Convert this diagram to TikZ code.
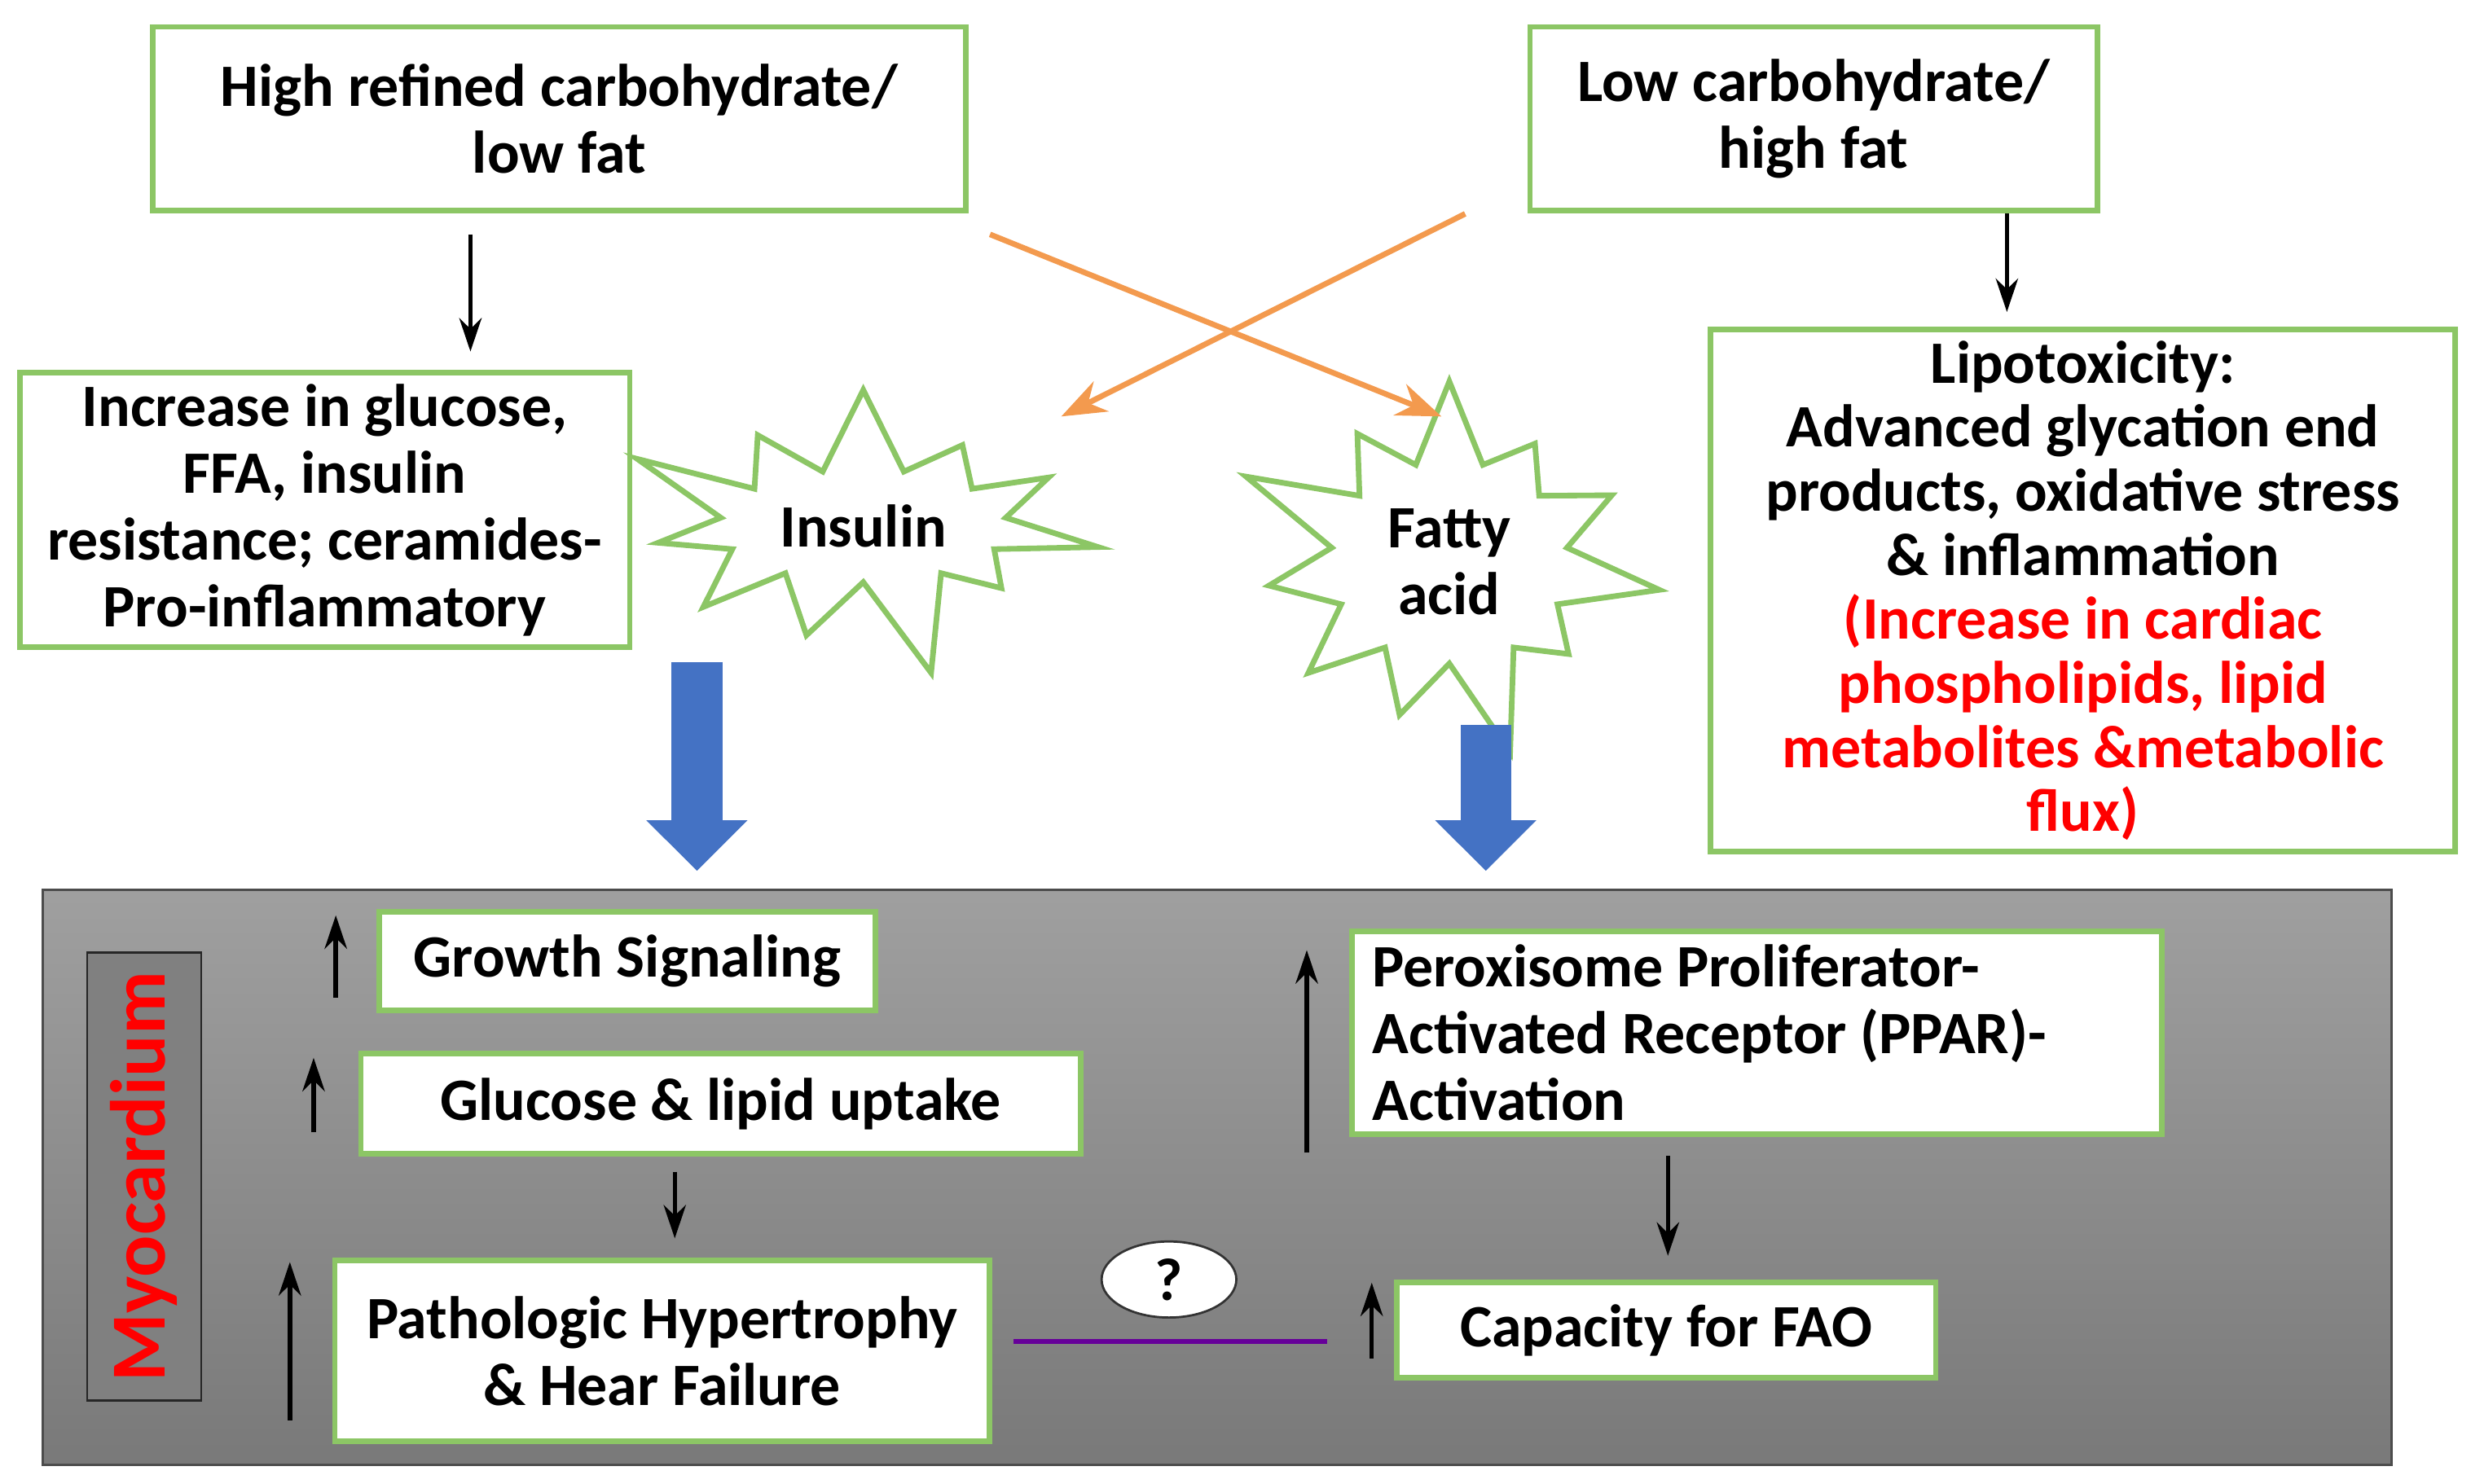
\documentclass[tikz,border=0pt]{standalone}
\usepackage{fontspec}
\setmainfont{Carlito}
\usetikzlibrary{shapes.symbols,shapes.geometric,arrows.meta}
\definecolor{boxgreen}{HTML}{8CC665}
\definecolor{dietorange}{HTML}{F39A4E}
\definecolor{bigblue}{HTML}{4472C4}
\begin{document}
\begin{tikzpicture}[x=0.01cm,y=-0.01cm,
  every node/.style={font=\bfseries\fontsize{10.8}{12}\selectfont},
  gbox/.style={draw=boxgreen,line width=1pt,fill=white,align=center,inner sep=2pt},
  burst/.style={starburst,starburst points=11,starburst point height=0.7cm,draw=boxgreen,line width=1pt,fill=white,align=center},
  thin arrow/.style={-{Stealth[length=6pt,width=4pt]},line width=0.8pt},
  big arrow/.style={-{Triangle[width=0.62cm,length=0.32cm]},line width=0.32cm,bigblue}]
\useasboundingbox (0,0) rectangle (1560,937);
% diets
\node[gbox,minimum width=5.13cm,minimum height=1.16cm] (hcarb) at (353,75) {High refined carbohydrate/\\low fat};
\node[gbox,minimum width=3.58cm,minimum height=1.16cm] (lcarb) at (1145,75) {Low carbohydrate/\\high fat};
\node[gbox,minimum width=3.85cm,minimum height=1.67cm] (gluc) at (205,322) {Increase in glucose,\\FFA, insulin\\resistance; ceramides-\\Pro-inflammatory};
\node[burst,minimum width=2.9cm,minimum height=1.9cm] (insulin) at (545,332) {Insulin};
\node[burst,minimum width=2.9cm,minimum height=1.8cm] (fatty) at (915,355) {Fatty\\acid};
\node[gbox,minimum width=4.7cm,minimum height=3.23cm,font=\bfseries\fontsize{10.8}{11.5}\selectfont] (lipo) at (1315,373) {Lipotoxicity:\\Advanced glycation end\\products, oxidative stress\\\& inflammation\\\textcolor{red}{(Increase in cardiac}\\\textcolor{red}{phospholipids, lipid}\\\textcolor{red}{metabolites \&metabolic}\\\textcolor{red}{flux)}};
\coordinate (a1) at (297,148); \coordinate (a2) at (297,222);
\coordinate (b1) at (1267,135); \coordinate (b2) at (1267,197);
\coordinate (o1) at (625,148); \coordinate (o2) at (910,263);
\coordinate (o3) at (925,135); \coordinate (o4) at (670,263);
\draw[thin arrow] (a1) -- (a2);
\draw[thin arrow] (b1) -- (b2);
\draw[-{Stealth[length=8pt,width=6pt]},dietorange,line width=1pt] (o1) -- (o2);
\draw[-{Stealth[length=8pt,width=6pt]},dietorange,line width=1pt] (o3) -- (o4);
\coordinate (c1) at (440,418); \coordinate (c2) at (440,550);
\coordinate (d1) at (938,458); \coordinate (d2) at (938,550);
\draw[big arrow] (c1) -- (c2);
\draw[big arrow] (d1) -- (d2);
% myocardium panel
\shade[top color=gray!75,bottom color=gray!95!black,draw=gray!60!black] (27,562) rectangle (1510,925);
\node[draw=gray!30!black,fill=gray,minimum width=2.83cm,minimum height=0.72cm,rotate=90,text=red,font=\bfseries\fontsize{14}{16}\selectfont] (myo) at (91,743) {Myocardium};
\node[gbox,minimum width=3.13cm,minimum height=0.62cm] (growth) at (396,607) {Growth Signaling};
\node[gbox,minimum width=4.54cm,minimum height=0.63cm] (uptake) at (455,697) {Glucose \& lipid uptake};
\node[gbox,minimum width=4.13cm,minimum height=1.14cm] (patho) at (418,853) {Pathologic Hypertrophy\\\& Hear Failure};
\node[gbox,minimum width=5.11cm,minimum height=1.28cm,align=flush left,text width=4.85cm] (ppar) at (1109,652) {Peroxisome Proliferator-\\Activated Receptor (PPAR)-\\Activation};
\node[gbox,minimum width=3.4cm,minimum height=0.6cm] (fao) at (1052,840) {Capacity for FAO};
\node[ellipse,draw=gray!40!black,fill=white,minimum width=0.85cm,minimum height=0.48cm,inner sep=0pt] (q) at (738,808) {?};
\coordinate (e1) at (212,630); \coordinate (e2) at (212,578);
\coordinate (f1) at (198,715); \coordinate (f2) at (198,668);
\coordinate (g1) at (426,740); \coordinate (g2) at (426,782);
\coordinate (h1) at (183,897); \coordinate (h2) at (183,797);
\coordinate (i1) at (825,728); \coordinate (i2) at (825,600);
\coordinate (j1) at (1053,730); \coordinate (j2) at (1053,793);
\coordinate (k1) at (866,858); \coordinate (k2) at (866,810);
\coordinate (p1) at (640,847); \coordinate (p2) at (838,847);
\foreach \s/\t in {e1/e2,f1/f2,g1/g2,h1/h2,i1/i2,j1/j2,k1/k2}
  \draw[thin arrow] (\s) -- (\t);
\draw[violet!80!blue,line width=0.8pt] (p1) -- (p2);
\end{tikzpicture}
\end{document}
